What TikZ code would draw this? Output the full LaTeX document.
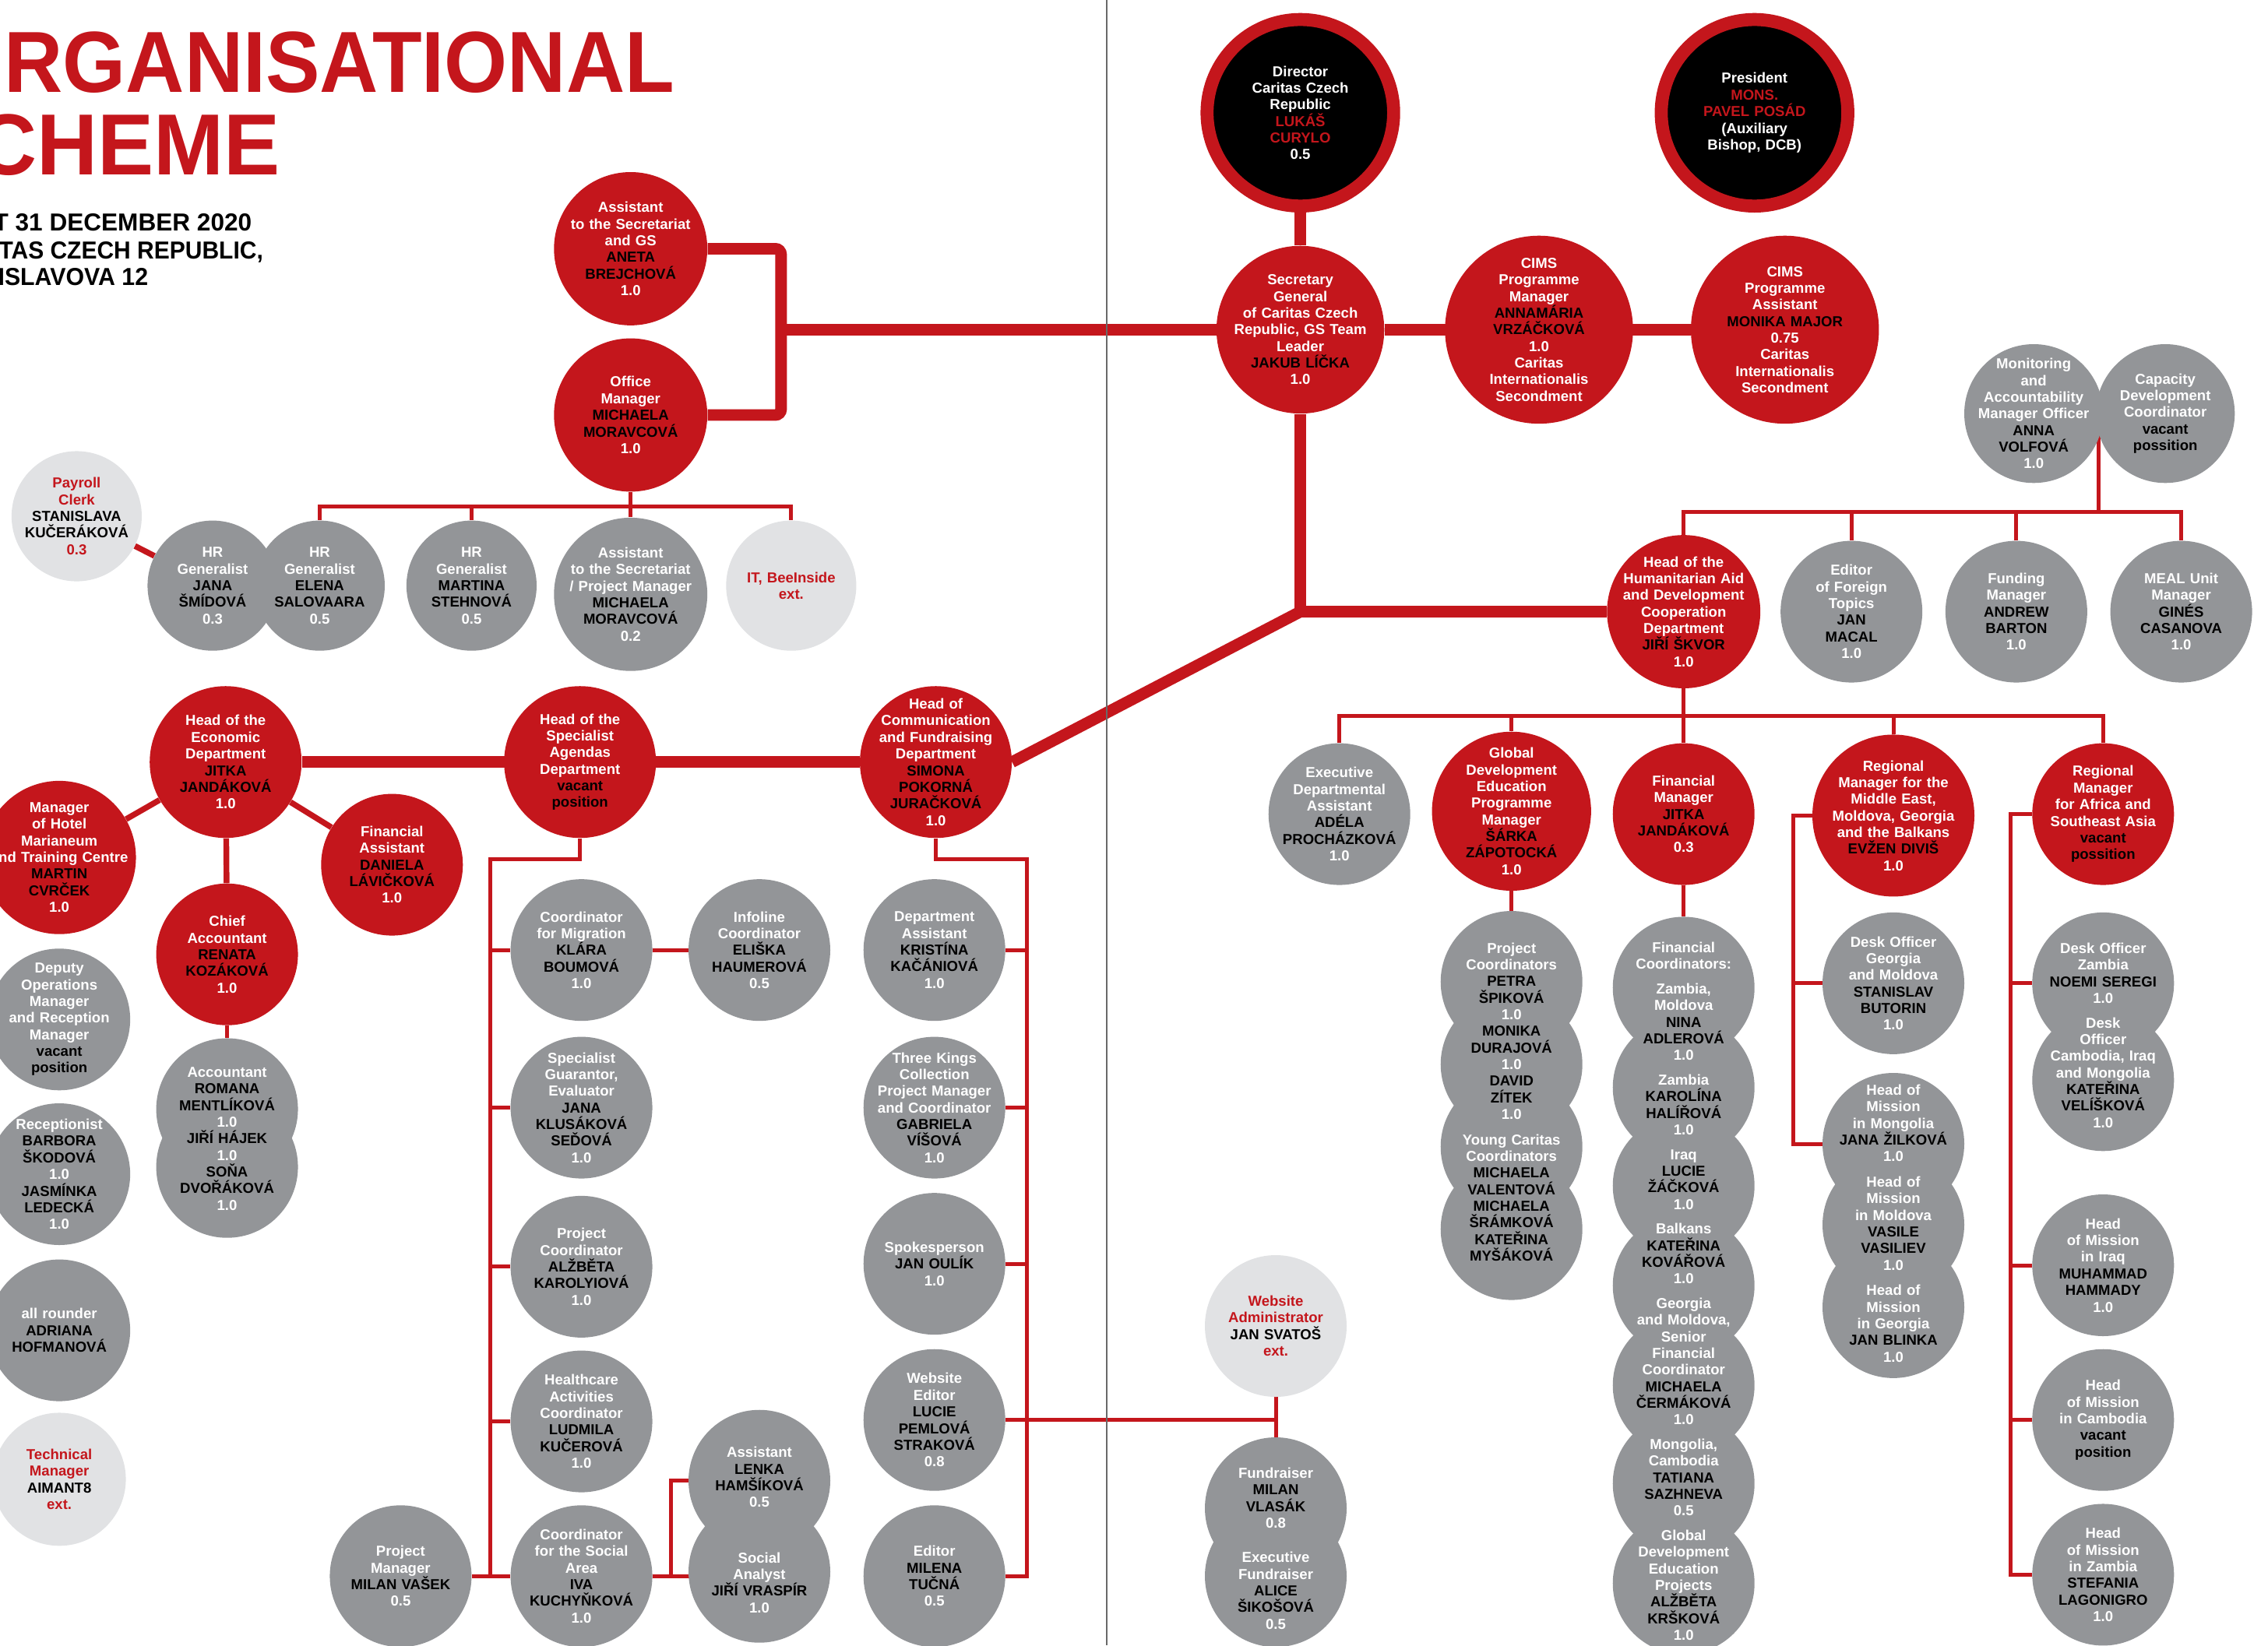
\documentclass[tikz,border=0pt]{standalone}
\usepackage{fontspec}
\setmainfont{Liberation Sans}
\pgfdeclarelayer{bg}
\pgfdeclarelayer{fg}
\pgfsetlayers{bg,main,fg}

\definecolor{cred}{RGB}{196,22,28}
\definecolor{cgrey}{RGB}{147,149,152}
\definecolor{clight}{RGB}{225,226,228}
\definecolor{cfold}{RGB}{105,105,105}

\tikzset{
  toppos/.style={circle, fill=black, draw=cred, line width=9pt, inner sep=0pt, minimum size=129pt},
  redpos/.style={circle, fill=cred, inner sep=0pt, minimum size=#1},
  redpos/.default=98pt,
  greypos/.style={circle, fill=cgrey, inner sep=0pt, minimum size=#1},
  greypos/.default=98pt,
  extpos/.style={circle, fill=clight, inner sep=0pt, minimum size=#1},
  extpos/.default=90pt,
  txt/.style={text width=130pt, align=center, inner sep=0pt, text=white,
    font=\fontsize{10}{11.5}\selectfont\bfseries},
  exttxt/.style={txt, text=cred},
  mainline/.style={cred, line width=8pt},
  midline/.style={cred, line width=4pt},
  thinline/.style={cred, line width=2.7pt},
}

\begin{document}
\begin{tikzpicture}[x=1pt, y=-1pt]
\useasboundingbox (0,0) rectangle (1568,1138);

% title
\node[anchor=base east, inner sep=0pt, text=cred, font=\fontsize{60}{60}\selectfont\bfseries] (title1) at (466.5,64) {\scalebox{0.935}[1]{RGANISATIONAL}};
\node[anchor=base east, inner sep=0pt, text=cred, font=\fontsize{60}{60}\selectfont\bfseries] (title2) at (193.75,121) {\scalebox{0.97}[1]{CHEME}};
\node[anchor=base east, inner sep=0pt, font=\fontsize{17}{17}\selectfont\bfseries] (sub1) at (174.25,159.8) {T 31 DECEMBER 2020};
\node[anchor=base west, inner sep=0pt, font=\fontsize{17}{17}\selectfont\bfseries] (sub2) at (-1,179.2) {\scalebox{0.95}[1]{TAS CZECH REPUBLIC,}};
\node[anchor=base west, inner sep=0pt, font=\fontsize{17}{17}\selectfont\bfseries] (sub3) at (-1.5,197.3) {\scalebox{0.96}[1]{ISLAVOVA 12}};

% top
\node[toppos] (dir) at (899,78) {};
\node[txt] (dir-t) at (dir) {Director\\Caritas Czech\\Republic\\{\color{cred}LUKÁŠ\\CURYLO}\\0.5};
\node[toppos] (pres) at (1213,78) {};
\node[txt] (pres-t) at (pres) {President\\{\color{cred}MONS.\\PAVEL POSÁD}\\(Auxiliary\\Bishop, DCB)};
\node[redpos=116pt] (sg) at (899,228) {};
\node[txt] (sg-t) at (sg) {Secretary\\General\\of Caritas Czech\\Republic, GS Team\\Leader\\{\color{black}JAKUB LÍČKA}\\1.0};
\node[redpos=130pt] (cimspm) at (1064,228) {};
\node[txt] (cimspm-t) at (cimspm) {CIMS\\Programme\\Manager\\{\color{black}ANNAMÁRIA\\VRZÁČKOVÁ}\\1.0\\Caritas\\Internationalis\\Secondment};
\node[redpos=130pt] (cimspa) at (1234,228) {};
\node[txt] (cimspa-t) at (cimspa) {CIMS\\Programme\\Assistant\\{\color{black}MONIKA MAJOR}\\0.75\\Caritas\\Internationalis\\Secondment};
\node[redpos=106pt] (asst) at (436,172) {};
\node[txt] (asst-t) at (asst) {Assistant\\to the Secretariat\\and GS\\{\color{black}ANETA\\BREJCHOVÁ}\\1.0};
\node[redpos=106pt] (office) at (436,287) {};
\node[txt] (office-t) at (office) {Office\\Manager\\{\color{black}MICHAELA\\MORAVCOVÁ}\\1.0};

% office row
\node[extpos] (payroll) at (53,357) {};
\node[exttxt] (payroll-t) at (payroll) {Payroll\\Clerk\\{\color{black}STANISLAVA\\KUČERÁKOVÁ}\\0.3};
\node[greypos=90pt] (jana) at (147,405) {};
\node[txt] (jana-t) at (jana) {HR\\Generalist\\{\color{black}JANA\\ŠMÍDOVÁ}\\0.3};
\node[greypos=90pt] (elena) at (221,405) {};
\node[txt] (elena-t) at (elena) {HR\\Generalist\\{\color{black}ELENA\\SALOVAARA}\\0.5};
\node[greypos=90pt] (martina) at (326,405) {};
\node[txt] (martina-t) at (martina) {HR\\Generalist\\{\color{black}MARTINA\\STEHNOVÁ}\\0.5};
\node[greypos=106pt] (asstpm) at (436,411) {};
\node[txt] (asstpm-t) at (asstpm) {Assistant\\to the Secretariat\\/ Project Manager\\{\color{black}MICHAELA\\MORAVCOVÁ}\\0.2};
\node[extpos] (it) at (547,405) {};
\node[exttxt] (it-t) at (it) {IT, BeeInside\\ext.};

% economic department
\node[redpos=105pt] (econ) at (156,527) {};
\node[txt] (econ-t) at (econ) {Head of the\\Economic\\Department\\{\color{black}JITKA\\JANDÁKOVÁ}\\1.0};
\node[redpos=106pt] (hotel) at (41,593) {};
\node[txt] (hotel-t) at (hotel) {Manager\\of Hotel\\Marianeum\\and Training Centre\\{\color{black}MARTIN\\CVRČEK}\\1.0};
\node[redpos] (finasst) at (271,598) {};
\node[txt] (finasst-t) at (finasst) {Financial\\Assistant\\{\color{black}DANIELA\\LÁVIČKOVÁ}\\1.0};
\node[redpos] (chief) at (157,660) {};
\node[txt] (chief-t) at (chief) {Chief\\Accountant\\{\color{black}RENATA\\KOZÁKOVÁ}\\1.0};
\node[greypos] (acc1) at (157,767) {};
\node[greypos] (acc2) at (157,807) {};
\node[txt] (acc-t) at (157,787.5) {Accountant\\{\color{black}ROMANA\\MENTLÍKOVÁ}\\1.0\\{\color{black}JIŘÍ HÁJEK}\\1.0\\{\color{black}SOŇA\\DVOŘÁKOVÁ}\\1.0};
\node[greypos] (deputy) at (41,705) {};
\node[txt] (deputy-t) at (deputy) {Deputy\\Operations\\Manager\\and Reception\\Manager\\{\color{black}vacant\\position}};
\node[greypos] (recep) at (41,812) {};
\node[txt] (recep-t) at (recep) {Receptionist\\{\color{black}BARBORA\\ŠKODOVÁ}\\1.0\\{\color{black}JASMÍNKA\\LEDECKÁ}\\1.0};
\node[greypos] (allr) at (41,920) {};
\node[txt] (allr-t) at (allr) {all rounder\\{\color{black}ADRIANA\\HOFMANOVÁ}};
\node[extpos=92pt] (tech) at (41,1023) {};
\node[exttxt] (tech-t) at (tech) {Technical\\Manager\\{\color{black}AIMANT8}\\ext.};

% specialist agendas
\node[redpos=105pt] (spec) at (401,527) {};
\node[txt] (spec-t) at (spec) {Head of the\\Specialist\\Agendas\\Department\\{\color{black}vacant\\position}};
\node[greypos] (migr) at (402,657) {};
\node[txt] (migr-t) at (migr) {Coordinator\\for Migration\\{\color{black}KLÁRA\\BOUMOVÁ}\\1.0};
\node[greypos] (info) at (525,657) {};
\node[txt] (info-t) at (info) {Infoline\\Coordinator\\{\color{black}ELIŠKA\\HAUMEROVÁ}\\0.5};
\node[greypos] (guar) at (402,766) {};
\node[txt] (guar-t) at (guar) {Specialist\\Guarantor,\\Evaluator\\{\color{black}JANA\\KLUSÁKOVÁ\\SEĎOVÁ}\\1.0};
\node[greypos] (projc) at (402,876) {};
\node[txt] (projc-t) at (projc) {Project\\Coordinator\\{\color{black}ALŽBĚTA\\KAROLYIOVÁ}\\1.0};
\node[greypos] (health) at (402,983) {};
\node[txt] (health-t) at (health) {Healthcare\\Activities\\Coordinator\\{\color{black}LUDMILA\\KUČEROVÁ}\\1.0};
\node[greypos] (socarea) at (402,1090) {};
\node[txt] (socarea-t) at (socarea) {Coordinator\\for the Social\\Area\\{\color{black}IVA\\KUCHYŇKOVÁ}\\1.0};
\node[greypos] (milan) at (277,1090) {};
\node[txt] (milan-t) at (milan) {Project\\Manager\\{\color{black}MILAN VAŠEK}\\0.5};
\node[greypos] (lenka) at (525,1024) {};
\node[greypos] (analyst) at (525,1087) {};
\node[txt] (lenka-t) at (525,1021.5) {Assistant\\{\color{black}LENKA\\HAMŠÍKOVÁ}\\0.5};
\node[txt] (analyst-t) at (525,1094.5) {Social\\Analyst\\{\color{black}JIŘÍ VRASPÍR}\\1.0};

% communication and fundraising
\node[redpos=105pt] (comm) at (647,527) {};
\node[txt] (comm-t) at (comm) {Head of\\Communication\\and Fundraising\\Department\\{\color{black}SIMONA\\POKORNÁ\\JURAČKOVÁ}\\1.0};
\node[greypos] (dasst) at (646,657) {};
\node[txt] (dasst-t) at (dasst) {Department\\Assistant\\{\color{black}KRISTÍNA\\KAČÁNIOVÁ}\\1.0};
\node[greypos] (kings) at (646,766) {};
\node[txt] (kings-t) at (kings) {Three Kings\\Collection\\Project Manager\\and Coordinator\\{\color{black}GABRIELA\\VÍŠOVÁ}\\1.0};
\node[greypos] (spokes) at (646,874) {};
\node[txt] (spokes-t) at (spokes) {Spokesperson\\{\color{black}JAN OULÍK}\\1.0};
\node[greypos] (weditor) at (646,982) {};
\node[txt] (weditor-t) at (weditor) {Website\\Editor\\{\color{black}LUCIE\\PEMLOVÁ\\STRAKOVÁ}\\0.8};
\node[greypos] (milena) at (646,1090) {};
\node[txt] (milena-t) at (milena) {Editor\\{\color{black}MILENA\\TUČNÁ}\\0.5};
\node[extpos=98pt] (wadm) at (882,917) {};
\node[exttxt] (wadm-t) at (wadm) {Website\\Administrator\\{\color{black}JAN SVATOŠ}\\ext.};
\node[greypos] (fund1) at (882,1043) {};
\node[greypos] (fund2) at (882,1090) {};
\node[txt] (fund1-t) at (882,1036) {Fundraiser\\{\color{black}MILAN\\VLASÁK}\\0.8};
\node[txt] (fund2-t) at (882,1100) {Executive\\Fundraiser\\{\color{black}ALICE\\ŠIKOŠOVÁ}\\0.5};

% humanitarian aid and development cooperation
\node[redpos=106pt] (had) at (1164,423) {};
\node[txt] (had-t) at (had) {Head of the\\Humanitarian Aid\\and Development\\Cooperation\\Department\\{\color{black}JIŘÍ ŠKVOR}\\1.0};
\node[greypos=96pt] (mon) at (1406,286) {};
\node[txt] (mon-t) at (mon) {Monitoring\\and\\Accountability\\Manager Officer\\{\color{black}ANNA\\VOLFOVÁ}\\1.0};
\node[greypos=96pt] (cap) at (1497,286) {};
\node[txt] (cap-t) at (cap) {Capacity\\Development\\Coordinator\\{\color{black}vacant\\possition}};
\node[greypos] (editor) at (1280,423) {};
\node[txt] (editor-t) at (editor) {Editor\\of Foreign\\Topics\\{\color{black}JAN\\MACAL}\\1.0};
\node[greypos] (funding) at (1394,423) {};
\node[txt] (funding-t) at (funding) {Funding\\Manager\\{\color{black}ANDREW\\BARTON}\\1.0};
\node[greypos] (meal) at (1508,423) {};
\node[txt] (meal-t) at (meal) {MEAL Unit\\Manager\\{\color{black}GINÉS\\CASANOVA}\\1.0};

\node[greypos] (exec) at (926,563) {};
\node[txt] (exec-t) at (exec) {Executive\\Departmental\\Assistant\\{\color{black}ADÉLA\\PROCHÁZKOVÁ}\\1.0};
\node[redpos=110pt] (gde) at (1045,561) {};
\node[txt] (gde-t) at (gde) {Global\\Development\\Education\\Programme\\Manager\\{\color{black}ŠÁRKA\\ZÁPOTOCKÁ}\\1.0};
\node[redpos] (finmgr) at (1164,563) {};
\node[txt] (finmgr-t) at (finmgr) {Financial\\Manager\\{\color{black}JITKA\\JANDÁKOVÁ}\\0.3};
\node[redpos=112pt] (me) at (1309,564) {};
\node[txt] (me-t) at (me) {Regional\\Manager for the\\Middle East,\\Moldova, Georgia\\and the Balkans\\{\color{black}EVŽEN DIVIŠ}\\1.0};
\node[redpos] (africa) at (1454,563) {};
\node[txt] (africa-t) at (africa) {Regional\\Manager\\for Africa and\\Southeast Asia\\{\color{black}vacant\\possition}};

% project coordinators
\node[greypos] (pc1) at (1045,679) {};
\node[greypos] (pc2) at (1045,736) {};
\node[greypos] (pc3) at (1045,793) {};
\node[greypos] (pc4) at (1045,850) {};
\node[txt] (pc-t) at (1045,762) {Project\\Coordinators\\{\color{black}PETRA\\ŠPIKOVÁ}\\1.0\\{\color{black}MONIKA\\DURAJOVÁ}\\1.0\\{\color{black}DAVID\\ZÍTEK}\\1.0\\[6pt]Young Caritas\\Coordinators\\{\color{black}MICHAELA\\VALENTOVÁ\\MICHAELA\\ŠRÁMKOVÁ\\KATEŘINA\\MYŠÁKOVÁ}};

% financial coordinators
\node[greypos] (fc1) at (1164,683) {};
\node[greypos] (fc2) at (1164,752) {};
\node[greypos] (fc3) at (1164,820) {};
\node[greypos] (fc4) at (1164,889) {};
\node[greypos] (fc5) at (1164,958) {};
\node[greypos] (fc6) at (1164,1026) {};
\node[greypos] (fc7) at (1164,1095) {};
\node[txt] (fc-t) at (1164,893) {Financial\\Coordinators:\\[5.5pt]Zambia,\\Moldova\\{\color{black}NINA\\ADLEROVÁ}\\1.0\\[5.5pt]Zambia\\{\color{black}KAROLÍNA\\HALÍŘOVÁ}\\1.0\\[5.5pt]Iraq\\{\color{black}LUCIE\\ŽÁČKOVÁ}\\1.0\\[5.5pt]Balkans\\{\color{black}KATEŘINA\\KOVÁŘOVÁ}\\1.0\\[5.5pt]Georgia\\and Moldova,\\Senior\\Financial\\Coordinator\\{\color{black}MICHAELA\\ČERMÁKOVÁ}\\1.0\\[5.5pt]Mongolia,\\Cambodia\\{\color{black}TATIANA\\SAZHNEVA}\\0.5\\[5.5pt]Global\\Development\\Education\\Projects\\{\color{black}ALŽBĚTA\\KRŠKOVÁ}\\1.0};

% middle east branch
\node[greypos] (dog) at (1309,680) {};
\node[txt] (dog-t) at (dog) {Desk Officer\\Georgia\\and Moldova\\{\color{black}STANISLAV\\BUTORIN}\\1.0};
\node[greypos] (hom1) at (1309,791) {};
\node[greypos] (hom2) at (1309,847) {};
\node[greypos] (hom3) at (1309,904) {};
\node[txt] (hom-t) at (1309,846) {Head of\\Mission\\in Mongolia\\{\color{black}JANA ŽILKOVÁ}\\1.0\\[6pt]Head of\\Mission\\in Moldova\\{\color{black}VASILE\\VASILIEV}\\1.0\\[6pt]Head of\\Mission\\in Georgia\\{\color{black}JAN BLINKA}\\1.0};

% africa branch
\node[greypos] (doz1) at (1454,680) {};
\node[greypos] (doz2) at (1454,747) {};
\node[txt] (doz-t) at (1454,716) {Desk Officer\\Zambia\\{\color{black}NOEMI SEREGI}\\1.0\\[5.5pt]Desk\\Officer\\Cambodia, Iraq\\and Mongolia\\{\color{black}KATEŘINA\\VELÍŠKOVÁ}\\1.0};
\node[greypos] (homiq) at (1454,875) {};
\node[txt] (homiq-t) at (homiq) {Head\\of Mission\\in Iraq\\{\color{black}MUHAMMAD\\HAMMADY}\\1.0};
\node[greypos] (homcam) at (1454,982) {};
\node[txt] (homcam-t) at (homcam) {Head\\of Mission\\in Cambodia\\{\color{black}vacant\\position}};
\node[greypos] (homz) at (1454,1089) {};
\node[txt] (homz-t) at (homz) {Head\\of Mission\\in Zambia\\{\color{black}STEFANIA\\LAGONIGRO}\\1.0};

% connectors
\begin{pgfonlayer}{bg}
\coordinate (jgs) at (540,228);
\coordinate (jhad) at (899,423);
\draw[mainline] (dir) -- (sg);
\draw[mainline] (sg) -- (cimspa);
\draw[mainline, rounded corners=4pt] (asst) -| (jgs) |- (office);
\draw[mainline] (jgs) -- (sg);
\draw[mainline] (sg) -- (jhad);
\draw[mainline, line join=round] (comm.east) -- (jhad) -- (had);
\draw[mainline] (econ) -- (comm);

\draw[midline] (econ) -- (hotel);
\draw[midline] (econ) -- (finasst);
\draw[midline] (econ) -- (chief);
\draw[thinline] (chief) -- (acc1);
\draw[midline] (payroll) -- (jana);

\coordinate (hrbar) at (0,350);
\draw[thinline] (office) -- (asstpm);
\draw[thinline] (elena) -- (elena |- hrbar) -| (it);
\draw[thinline] (martina) -- (martina |- hrbar);

\coordinate (tb) at (0,354);
\coordinate (mc) at (1451,290);
\draw[thinline] (had) -- (had |- tb) -| (meal);
\draw[thinline] (editor) -- (editor |- tb);
\draw[thinline] (funding) -- (funding |- tb);
\draw[thinline] (mc) -- (mc |- tb);

\coordinate (bb) at (0,495);
\draw[thinline] (had) -- (finmgr);
\draw[thinline] (exec) -- (exec |- bb) -| (africa);
\draw[thinline] (gde) -- (gde |- bb);
\draw[thinline] (me) -- (me |- bb);
\draw[thinline] (gde) -- (pc1);
\draw[thinline] (finmgr) -- (fc1);

\coordinate (mex) at (1240,0);
\draw[thinline] (me) -| (hom1 -| mex) -- (hom1);
\draw[thinline] (dog) -- (dog -| mex);
\coordinate (afx) at (1390,0);
\draw[thinline] (africa) -| (homz -| afx) -- (homz);
\draw[thinline] (doz1) -- (doz1 -| afx);
\draw[thinline] (homiq) -- (homiq -| afx);
\draw[thinline] (homcam) -- (homcam -| afx);

\coordinate (spx) at (339,594);
\draw[thinline] (spec) |- (spx) |- (milan);
\draw[thinline] (milan) -- (socarea);
\draw[thinline] (migr) -- (migr -| spx);
\draw[thinline] (guar) -- (guar -| spx);
\draw[thinline] (projc) -- (projc -| spx);
\draw[thinline] (health) -- (health -| spx);
\draw[thinline] (migr) -- (info);
\coordinate (lx) at (464,0);
\draw[thinline] (socarea) -- (socarea -| analyst);
\draw[thinline] (lenka) -| (socarea -| lx);

\coordinate (cx) at (710,594);
\draw[thinline] (comm) |- (cx) |- (milena);
\draw[thinline] (dasst) -- (dasst -| cx);
\draw[thinline] (kings) -- (kings -| cx);
\draw[thinline] (spokes) -- (spokes -| cx);
\draw[thinline] (weditor) -- (weditor -| wadm);
\draw[thinline] (wadm) -- (fund1);
\end{pgfonlayer}

% page fold
\begin{pgfonlayer}{fg}
\draw[cfold, line width=1pt] (765,0) -- (765,1138);
\end{pgfonlayer}
\end{tikzpicture}
\end{document}
